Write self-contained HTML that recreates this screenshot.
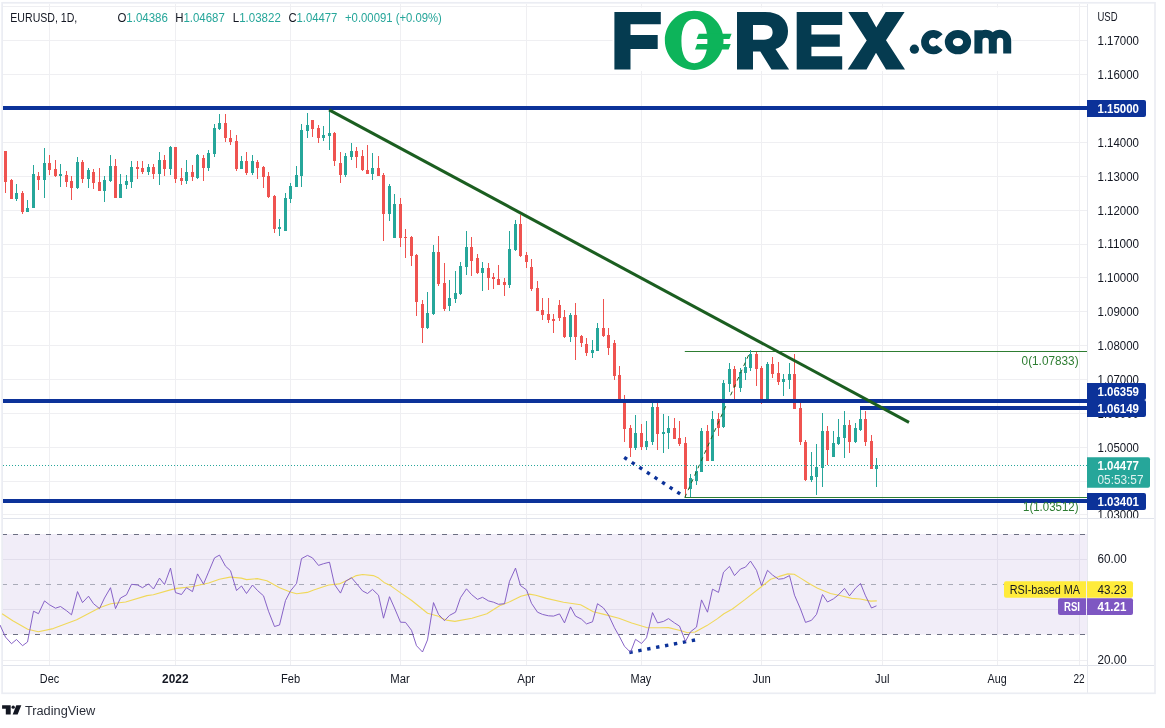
<!DOCTYPE html>
<html><head><meta charset="utf-8"><title>EURUSD Daily</title>
<style>html,body{margin:0;padding:0;background:#fff;}body{width:1165px;height:728px;overflow:hidden;position:relative;font-family:"Liberation Sans",sans-serif;}</style>
</head><body>
<svg width="1165" height="728" viewBox="0 0 1165 728" style="position:absolute;left:0;top:0;will-change:transform;opacity:0.9999;font-family:'Liberation Sans',sans-serif">
<rect x="0" y="0" width="1165" height="728" fill="#fff"/>
<line x1="3" x2="1087" y1="6.5" y2="6.5" stroke="#efeff2" stroke-width="1"/>
<line x1="3" x2="1087" y1="40.5" y2="40.5" stroke="#efeff2" stroke-width="1"/>
<line x1="3" x2="1087" y1="74.5" y2="74.5" stroke="#efeff2" stroke-width="1"/>
<line x1="3" x2="1087" y1="108.5" y2="108.5" stroke="#efeff2" stroke-width="1"/>
<line x1="3" x2="1087" y1="142.5" y2="142.5" stroke="#efeff2" stroke-width="1"/>
<line x1="3" x2="1087" y1="176.5" y2="176.5" stroke="#efeff2" stroke-width="1"/>
<line x1="3" x2="1087" y1="210.5" y2="210.5" stroke="#efeff2" stroke-width="1"/>
<line x1="3" x2="1087" y1="244.5" y2="244.5" stroke="#efeff2" stroke-width="1"/>
<line x1="3" x2="1087" y1="277.5" y2="277.5" stroke="#efeff2" stroke-width="1"/>
<line x1="3" x2="1087" y1="311.5" y2="311.5" stroke="#efeff2" stroke-width="1"/>
<line x1="3" x2="1087" y1="345.5" y2="345.5" stroke="#efeff2" stroke-width="1"/>
<line x1="3" x2="1087" y1="379.5" y2="379.5" stroke="#efeff2" stroke-width="1"/>
<line x1="3" x2="1087" y1="413.5" y2="413.5" stroke="#efeff2" stroke-width="1"/>
<line x1="3" x2="1087" y1="447.5" y2="447.5" stroke="#efeff2" stroke-width="1"/>
<line x1="3" x2="1087" y1="481.5" y2="481.5" stroke="#efeff2" stroke-width="1"/>
<line x1="3" x2="1087" y1="514.5" y2="514.5" stroke="#efeff2" stroke-width="1"/>
<line x1="3" x2="1087" y1="559.5" y2="559.5" stroke="#efeff2" stroke-width="1"/>
<line x1="3" x2="1087" y1="609.5" y2="609.5" stroke="#efeff2" stroke-width="1"/>
<line x1="3" x2="1087" y1="660.5" y2="660.5" stroke="#efeff2" stroke-width="1"/>
<line x1="49.5" x2="49.5" y1="4" y2="665" stroke="#efeff2" stroke-width="1"/>
<line x1="175.5" x2="175.5" y1="4" y2="665" stroke="#efeff2" stroke-width="1"/>
<line x1="290.5" x2="290.5" y1="4" y2="665" stroke="#efeff2" stroke-width="1"/>
<line x1="400.5" x2="400.5" y1="4" y2="665" stroke="#efeff2" stroke-width="1"/>
<line x1="526.5" x2="526.5" y1="4" y2="665" stroke="#efeff2" stroke-width="1"/>
<line x1="641.5" x2="641.5" y1="4" y2="665" stroke="#efeff2" stroke-width="1"/>
<line x1="761.5" x2="761.5" y1="4" y2="665" stroke="#efeff2" stroke-width="1"/>
<line x1="882.5" x2="882.5" y1="4" y2="665" stroke="#efeff2" stroke-width="1"/>
<line x1="997.5" x2="997.5" y1="4" y2="665" stroke="#efeff2" stroke-width="1"/>
<line x1="1079.5" x2="1079.5" y1="4" y2="665" stroke="#efeff2" stroke-width="1"/>
<rect x="3" y="534" width="1084" height="100.5" fill="#7e57c2" fill-opacity="0.11"/>
<line x1="2" x2="1087" y1="534.5" y2="534.5" stroke="#6c6f82" stroke-width="1" stroke-dasharray="5 6"/>
<line x1="2" x2="1087" y1="634.5" y2="634.5" stroke="#6c6f82" stroke-width="1" stroke-dasharray="5 6"/>
<line x1="2" x2="1087" y1="584.5" y2="584.5" stroke="#a9abb8" stroke-width="1" stroke-dasharray="5 6"/>
<line x1="3" x2="1154" y1="518.5" y2="518.5" stroke="#e0e3eb" stroke-width="1"/>
<line x1="3" x2="1154" y1="665.5" y2="665.5" stroke="#e0e3eb" stroke-width="1"/>
<line x1="1087.5" x2="1087.5" y1="4" y2="693" stroke="#e6e8ee" stroke-width="1"/>
<rect x="2.1" y="2.8" width="1152.9" height="690.5" fill="none" stroke="#ebedf3" stroke-width="1.7"/>
<g id="logo">
<rect x="612.5" y="7.5" width="399.5" height="63.5" fill="#fff"/>
<path d="M614.4,12 H660.8 V24.3 H630.5 V35 H657.7 V49 H630.5 V69.6 H614.4 Z" fill="#053b50"/>
<path fill-rule="evenodd" d="M694.2,10.75 C710.41,10.75 723.5500000000001,24.00 723.5500000000001,40.35 C723.5500000000001,56.70 710.41,69.95 694.2,69.95 C677.99,69.95 664.85,56.70 664.85,40.35 C664.85,24.00 677.99,10.75 694.2,10.75 Z M694.4,18.9 C702.72,18.9 707.4,26.87 707.4,41.05 C707.4,55.23 702.72,63.199999999999996 694.4,63.199999999999996 C686.08,63.199999999999996 681.4,55.23 681.4,41.05 C681.4,26.87 686.08,18.9 694.4,18.9 Z" fill="#0db45a"/>
<path d="M698.75,33.65 H731.6 L729.5,39.1 H696.6 Z M697.1,43.9 H730.7 L728.6,49.4 H695 Z" fill="#0db45a"/>
<path fill-rule="evenodd" d="M737,12 H765 C780,12 788,20 788,31 C788,40.5 783,46.5 775.5,49 L789.1,69.6 H771.5 L760.3,51.6 H753 V69.6 H737 Z M753,25 H764 C769.8,25 772.6,28 772.6,32.3 C772.6,36.6 769.8,39.7 764,39.7 H753 Z" fill="#053b50"/>
<path d="M796.7,12 H842.2 V25 H811.4 V34.4 H839.8 V46.8 H811.4 V56.2 H842.2 V69.6 H796.7 Z" fill="#053b50"/>
<path d="M848.3,12 H867.5 L876.3,27.5 L885.7,12 H904.6 L886,40.3 L905,69.6 H886 L876,52.8 L866.5,69.6 H847.7 L866.7,40.5 Z" fill="#053b50"/>
<circle cx="914.4" cy="49.2" r="4.6" fill="#053b50"/>
<g fill="none" stroke="#053b50" stroke-width="8">
<path d="M939.66,36.76 A8.3,8.3 0 1 0 939.66,47.44" stroke-width="7.8"/>
<ellipse cx="957.95" cy="42.1" rx="9.15" ry="8.2"/>
<path d="M978.4,30.2 V53.6 M978.4,41 a7.2,7.2 0 0 1 14.4,0 V53.6 M992.8,41 a7.2,7.2 0 0 1 14.4,0 V53.6"/>
</g>
</g>

<line x1="684.8" x2="1087" y1="351.5" y2="351.5" stroke="#2e7d32" stroke-width="1"/>
<line x1="684.8" x2="1087" y1="497.5" y2="497.5" stroke="#2e7d32" stroke-width="1"/>
<rect x="5" y="151" width="1" height="42" fill="#ef5350"/>
<rect x="4" y="151" width="3" height="31" fill="#ef5350"/>
<rect x="11" y="179" width="1" height="20" fill="#ef5350"/>
<rect x="10" y="180" width="3" height="19" fill="#ef5350"/>
<rect x="16" y="184" width="1" height="17" fill="#26a69a"/>
<rect x="15" y="193" width="3" height="6" fill="#26a69a"/>
<rect x="22" y="191" width="1" height="23" fill="#ef5350"/>
<rect x="21" y="193" width="3" height="19" fill="#ef5350"/>
<rect x="27" y="200" width="1" height="12" fill="#26a69a"/>
<rect x="26" y="208" width="3" height="4" fill="#26a69a"/>
<rect x="33" y="165" width="1" height="43" fill="#26a69a"/>
<rect x="32" y="174" width="3" height="34" fill="#26a69a"/>
<rect x="38" y="172" width="1" height="18" fill="#ef5350"/>
<rect x="37" y="176" width="3" height="4" fill="#ef5350"/>
<rect x="44" y="148" width="1" height="50" fill="#26a69a"/>
<rect x="43" y="163" width="3" height="17" fill="#26a69a"/>
<rect x="49" y="155" width="1" height="20" fill="#ef5350"/>
<rect x="48" y="163" width="3" height="7" fill="#ef5350"/>
<rect x="55" y="160" width="1" height="17" fill="#ef5350"/>
<rect x="54" y="169" width="3" height="7" fill="#ef5350"/>
<rect x="60" y="164" width="1" height="23" fill="#26a69a"/>
<rect x="59" y="174" width="3" height="2" fill="#26a69a"/>
<rect x="66" y="171" width="1" height="16" fill="#ef5350"/>
<rect x="65" y="175" width="3" height="7" fill="#ef5350"/>
<rect x="71" y="176" width="1" height="24" fill="#ef5350"/>
<rect x="70" y="181" width="3" height="7" fill="#ef5350"/>
<rect x="77" y="157" width="1" height="32" fill="#26a69a"/>
<rect x="76" y="162" width="3" height="26" fill="#26a69a"/>
<rect x="82" y="160" width="1" height="23" fill="#ef5350"/>
<rect x="81" y="162" width="3" height="17" fill="#ef5350"/>
<rect x="88" y="168" width="1" height="20" fill="#26a69a"/>
<rect x="87" y="170" width="3" height="9" fill="#26a69a"/>
<rect x="93" y="169" width="1" height="20" fill="#ef5350"/>
<rect x="92" y="172" width="3" height="11" fill="#ef5350"/>
<rect x="99" y="168" width="1" height="23" fill="#ef5350"/>
<rect x="98" y="182" width="3" height="9" fill="#ef5350"/>
<rect x="104" y="176" width="1" height="26" fill="#26a69a"/>
<rect x="103" y="180" width="3" height="11" fill="#26a69a"/>
<rect x="110" y="155" width="1" height="27" fill="#26a69a"/>
<rect x="109" y="166" width="3" height="15" fill="#26a69a"/>
<rect x="115" y="159" width="1" height="39" fill="#ef5350"/>
<rect x="114" y="166" width="3" height="32" fill="#ef5350"/>
<rect x="120" y="174" width="1" height="24" fill="#26a69a"/>
<rect x="119" y="184" width="3" height="14" fill="#26a69a"/>
<rect x="126" y="175" width="1" height="14" fill="#26a69a"/>
<rect x="125" y="181" width="3" height="4" fill="#26a69a"/>
<rect x="131" y="161" width="1" height="27" fill="#26a69a"/>
<rect x="130" y="167" width="3" height="15" fill="#26a69a"/>
<rect x="137" y="161" width="1" height="18" fill="#ef5350"/>
<rect x="136" y="167" width="3" height="2" fill="#ef5350"/>
<rect x="142" y="161" width="1" height="13" fill="#ef5350"/>
<rect x="141" y="168" width="3" height="4" fill="#ef5350"/>
<rect x="148" y="164" width="1" height="11" fill="#26a69a"/>
<rect x="147" y="167" width="3" height="5" fill="#26a69a"/>
<rect x="153" y="164" width="1" height="15" fill="#ef5350"/>
<rect x="152" y="167" width="3" height="7" fill="#ef5350"/>
<rect x="159" y="152" width="1" height="33" fill="#26a69a"/>
<rect x="158" y="160" width="3" height="14" fill="#26a69a"/>
<rect x="164" y="155" width="1" height="21" fill="#ef5350"/>
<rect x="163" y="160" width="3" height="9" fill="#ef5350"/>
<rect x="170" y="146" width="1" height="29" fill="#26a69a"/>
<rect x="169" y="147" width="3" height="22" fill="#26a69a"/>
<rect x="175" y="147" width="1" height="36" fill="#ef5350"/>
<rect x="174" y="147" width="3" height="32" fill="#ef5350"/>
<rect x="181" y="168" width="1" height="17" fill="#ef5350"/>
<rect x="180" y="178" width="3" height="3" fill="#ef5350"/>
<rect x="186" y="160" width="1" height="24" fill="#26a69a"/>
<rect x="185" y="172" width="3" height="9" fill="#26a69a"/>
<rect x="192" y="165" width="1" height="16" fill="#ef5350"/>
<rect x="191" y="172" width="3" height="5" fill="#ef5350"/>
<rect x="197" y="154" width="1" height="25" fill="#26a69a"/>
<rect x="196" y="155" width="3" height="23" fill="#26a69a"/>
<rect x="203" y="155" width="1" height="26" fill="#ef5350"/>
<rect x="202" y="158" width="3" height="10" fill="#ef5350"/>
<rect x="208" y="150" width="1" height="21" fill="#26a69a"/>
<rect x="207" y="153" width="3" height="15" fill="#26a69a"/>
<rect x="214" y="124" width="1" height="33" fill="#26a69a"/>
<rect x="213" y="128" width="3" height="26" fill="#26a69a"/>
<rect x="219" y="114" width="1" height="16" fill="#26a69a"/>
<rect x="218" y="123" width="3" height="6" fill="#26a69a"/>
<rect x="225" y="114" width="1" height="28" fill="#ef5350"/>
<rect x="224" y="123" width="3" height="15" fill="#ef5350"/>
<rect x="230" y="130" width="1" height="15" fill="#ef5350"/>
<rect x="229" y="138" width="3" height="4" fill="#ef5350"/>
<rect x="236" y="135" width="1" height="36" fill="#ef5350"/>
<rect x="235" y="141" width="3" height="28" fill="#ef5350"/>
<rect x="241" y="156" width="1" height="13" fill="#26a69a"/>
<rect x="240" y="161" width="3" height="8" fill="#26a69a"/>
<rect x="246" y="152" width="1" height="23" fill="#ef5350"/>
<rect x="245" y="161" width="3" height="12" fill="#ef5350"/>
<rect x="252" y="155" width="1" height="20" fill="#26a69a"/>
<rect x="251" y="161" width="3" height="12" fill="#26a69a"/>
<rect x="257" y="160" width="1" height="19" fill="#ef5350"/>
<rect x="256" y="162" width="3" height="6" fill="#ef5350"/>
<rect x="263" y="166" width="1" height="22" fill="#ef5350"/>
<rect x="262" y="167" width="3" height="10" fill="#ef5350"/>
<rect x="268" y="172" width="1" height="26" fill="#ef5350"/>
<rect x="267" y="176" width="3" height="21" fill="#ef5350"/>
<rect x="274" y="195" width="1" height="38" fill="#ef5350"/>
<rect x="273" y="196" width="3" height="33" fill="#ef5350"/>
<rect x="279" y="219" width="1" height="17" fill="#26a69a"/>
<rect x="278" y="227" width="3" height="2" fill="#26a69a"/>
<rect x="285" y="193" width="1" height="38" fill="#26a69a"/>
<rect x="284" y="198" width="3" height="33" fill="#26a69a"/>
<rect x="290" y="183" width="1" height="20" fill="#26a69a"/>
<rect x="289" y="186" width="3" height="13" fill="#26a69a"/>
<rect x="296" y="166" width="1" height="21" fill="#26a69a"/>
<rect x="295" y="175" width="3" height="12" fill="#26a69a"/>
<rect x="301" y="124" width="1" height="63" fill="#26a69a"/>
<rect x="300" y="130" width="3" height="46" fill="#26a69a"/>
<rect x="307" y="113" width="1" height="25" fill="#26a69a"/>
<rect x="306" y="125" width="3" height="6" fill="#26a69a"/>
<rect x="312" y="120" width="1" height="17" fill="#ef5350"/>
<rect x="311" y="120" width="3" height="9" fill="#ef5350"/>
<rect x="318" y="125" width="1" height="18" fill="#ef5350"/>
<rect x="317" y="128" width="3" height="10" fill="#ef5350"/>
<rect x="323" y="126" width="1" height="15" fill="#26a69a"/>
<rect x="322" y="135" width="3" height="3" fill="#26a69a"/>
<rect x="329" y="110" width="1" height="40" fill="#26a69a"/>
<rect x="328" y="133" width="3" height="3" fill="#26a69a"/>
<rect x="334" y="132" width="1" height="34" fill="#ef5350"/>
<rect x="333" y="133" width="3" height="28" fill="#ef5350"/>
<rect x="340" y="152" width="1" height="31" fill="#ef5350"/>
<rect x="339" y="163" width="3" height="12" fill="#ef5350"/>
<rect x="345" y="153" width="1" height="24" fill="#26a69a"/>
<rect x="344" y="156" width="3" height="19" fill="#26a69a"/>
<rect x="351" y="143" width="1" height="17" fill="#26a69a"/>
<rect x="350" y="151" width="3" height="6" fill="#26a69a"/>
<rect x="356" y="147" width="1" height="21" fill="#ef5350"/>
<rect x="355" y="151" width="3" height="6" fill="#ef5350"/>
<rect x="362" y="150" width="1" height="21" fill="#ef5350"/>
<rect x="361" y="156" width="3" height="14" fill="#ef5350"/>
<rect x="367" y="145" width="1" height="29" fill="#ef5350"/>
<rect x="366" y="170" width="3" height="4" fill="#ef5350"/>
<rect x="372" y="153" width="1" height="27" fill="#26a69a"/>
<rect x="371" y="168" width="3" height="6" fill="#26a69a"/>
<rect x="378" y="156" width="1" height="20" fill="#ef5350"/>
<rect x="377" y="168" width="3" height="8" fill="#ef5350"/>
<rect x="383" y="173" width="1" height="68" fill="#ef5350"/>
<rect x="382" y="175" width="3" height="39" fill="#ef5350"/>
<rect x="389" y="184" width="1" height="37" fill="#26a69a"/>
<rect x="388" y="186" width="3" height="28" fill="#26a69a"/>
<rect x="394" y="194" width="1" height="44" fill="#26a69a"/>
<rect x="393" y="204" width="3" height="34" fill="#26a69a"/>
<rect x="400" y="198" width="1" height="49" fill="#ef5350"/>
<rect x="399" y="204" width="3" height="34" fill="#ef5350"/>
<rect x="405" y="229" width="1" height="29" fill="#ef5350"/>
<rect x="404" y="237" width="3" height="1" fill="#ef5350"/>
<rect x="411" y="236" width="1" height="30" fill="#ef5350"/>
<rect x="410" y="237" width="3" height="19" fill="#ef5350"/>
<rect x="416" y="254" width="1" height="62" fill="#ef5350"/>
<rect x="415" y="255" width="3" height="47" fill="#ef5350"/>
<rect x="422" y="300" width="1" height="43" fill="#ef5350"/>
<rect x="421" y="304" width="3" height="24" fill="#ef5350"/>
<rect x="427" y="292" width="1" height="37" fill="#26a69a"/>
<rect x="426" y="313" width="3" height="15" fill="#26a69a"/>
<rect x="433" y="245" width="1" height="70" fill="#26a69a"/>
<rect x="432" y="252" width="3" height="62" fill="#26a69a"/>
<rect x="438" y="236" width="1" height="50" fill="#ef5350"/>
<rect x="437" y="252" width="3" height="32" fill="#ef5350"/>
<rect x="444" y="263" width="1" height="48" fill="#ef5350"/>
<rect x="443" y="283" width="3" height="26" fill="#ef5350"/>
<rect x="449" y="280" width="1" height="31" fill="#26a69a"/>
<rect x="448" y="298" width="3" height="8" fill="#26a69a"/>
<rect x="455" y="271" width="1" height="32" fill="#26a69a"/>
<rect x="454" y="293" width="3" height="6" fill="#26a69a"/>
<rect x="460" y="262" width="1" height="33" fill="#26a69a"/>
<rect x="459" y="266" width="3" height="28" fill="#26a69a"/>
<rect x="466" y="231" width="1" height="44" fill="#26a69a"/>
<rect x="465" y="247" width="3" height="20" fill="#26a69a"/>
<rect x="471" y="237" width="1" height="39" fill="#ef5350"/>
<rect x="470" y="247" width="3" height="14" fill="#ef5350"/>
<rect x="477" y="254" width="1" height="20" fill="#ef5350"/>
<rect x="476" y="258" width="3" height="15" fill="#ef5350"/>
<rect x="482" y="262" width="1" height="29" fill="#26a69a"/>
<rect x="481" y="268" width="3" height="5" fill="#26a69a"/>
<rect x="488" y="263" width="1" height="27" fill="#ef5350"/>
<rect x="487" y="268" width="3" height="10" fill="#ef5350"/>
<rect x="493" y="273" width="1" height="16" fill="#ef5350"/>
<rect x="492" y="277" width="3" height="2" fill="#ef5350"/>
<rect x="498" y="265" width="1" height="20" fill="#ef5350"/>
<rect x="497" y="279" width="3" height="6" fill="#ef5350"/>
<rect x="504" y="278" width="1" height="18" fill="#ef5350"/>
<rect x="503" y="282" width="3" height="3" fill="#ef5350"/>
<rect x="509" y="231" width="1" height="57" fill="#26a69a"/>
<rect x="508" y="249" width="3" height="36" fill="#26a69a"/>
<rect x="515" y="220" width="1" height="31" fill="#26a69a"/>
<rect x="514" y="224" width="3" height="26" fill="#26a69a"/>
<rect x="520" y="215" width="1" height="42" fill="#ef5350"/>
<rect x="519" y="224" width="3" height="32" fill="#ef5350"/>
<rect x="526" y="252" width="1" height="16" fill="#ef5350"/>
<rect x="525" y="255" width="3" height="7" fill="#ef5350"/>
<rect x="531" y="259" width="1" height="32" fill="#ef5350"/>
<rect x="530" y="267" width="3" height="22" fill="#ef5350"/>
<rect x="537" y="281" width="1" height="30" fill="#ef5350"/>
<rect x="536" y="288" width="3" height="23" fill="#ef5350"/>
<rect x="542" y="298" width="1" height="22" fill="#ef5350"/>
<rect x="541" y="310" width="3" height="5" fill="#ef5350"/>
<rect x="548" y="298" width="1" height="25" fill="#ef5350"/>
<rect x="547" y="314" width="3" height="6" fill="#ef5350"/>
<rect x="553" y="314" width="1" height="19" fill="#ef5350"/>
<rect x="552" y="319" width="3" height="2" fill="#ef5350"/>
<rect x="559" y="300" width="1" height="21" fill="#ef5350"/>
<rect x="558" y="305" width="3" height="13" fill="#ef5350"/>
<rect x="564" y="310" width="1" height="28" fill="#ef5350"/>
<rect x="563" y="317" width="3" height="20" fill="#ef5350"/>
<rect x="570" y="313" width="1" height="29" fill="#26a69a"/>
<rect x="569" y="315" width="3" height="22" fill="#26a69a"/>
<rect x="575" y="303" width="1" height="57" fill="#ef5350"/>
<rect x="574" y="315" width="3" height="22" fill="#ef5350"/>
<rect x="581" y="335" width="1" height="12" fill="#ef5350"/>
<rect x="580" y="336" width="3" height="7" fill="#ef5350"/>
<rect x="586" y="338" width="1" height="18" fill="#ef5350"/>
<rect x="585" y="344" width="3" height="9" fill="#ef5350"/>
<rect x="592" y="340" width="1" height="18" fill="#26a69a"/>
<rect x="591" y="350" width="3" height="3" fill="#26a69a"/>
<rect x="597" y="323" width="1" height="28" fill="#26a69a"/>
<rect x="596" y="328" width="3" height="23" fill="#26a69a"/>
<rect x="603" y="299" width="1" height="38" fill="#ef5350"/>
<rect x="602" y="328" width="3" height="8" fill="#ef5350"/>
<rect x="608" y="328" width="1" height="27" fill="#ef5350"/>
<rect x="607" y="335" width="3" height="13" fill="#ef5350"/>
<rect x="614" y="340" width="1" height="40" fill="#ef5350"/>
<rect x="613" y="343" width="3" height="33" fill="#ef5350"/>
<rect x="619" y="366" width="1" height="37" fill="#ef5350"/>
<rect x="618" y="375" width="3" height="27" fill="#ef5350"/>
<rect x="624" y="395" width="1" height="47" fill="#ef5350"/>
<rect x="623" y="401" width="3" height="28" fill="#ef5350"/>
<rect x="630" y="425" width="1" height="32" fill="#ef5350"/>
<rect x="629" y="428" width="3" height="20" fill="#ef5350"/>
<rect x="635" y="415" width="1" height="35" fill="#26a69a"/>
<rect x="634" y="433" width="3" height="15" fill="#26a69a"/>
<rect x="641" y="424" width="1" height="26" fill="#ef5350"/>
<rect x="640" y="433" width="3" height="14" fill="#ef5350"/>
<rect x="646" y="421" width="1" height="29" fill="#26a69a"/>
<rect x="645" y="441" width="3" height="6" fill="#26a69a"/>
<rect x="652" y="403" width="1" height="42" fill="#26a69a"/>
<rect x="651" y="407" width="3" height="35" fill="#26a69a"/>
<rect x="657" y="403" width="1" height="47" fill="#ef5350"/>
<rect x="656" y="407" width="3" height="27" fill="#ef5350"/>
<rect x="663" y="414" width="1" height="39" fill="#26a69a"/>
<rect x="662" y="432" width="3" height="2" fill="#26a69a"/>
<rect x="668" y="416" width="1" height="33" fill="#26a69a"/>
<rect x="667" y="428" width="3" height="5" fill="#26a69a"/>
<rect x="674" y="418" width="1" height="21" fill="#ef5350"/>
<rect x="673" y="428" width="3" height="11" fill="#ef5350"/>
<rect x="679" y="421" width="1" height="25" fill="#ef5350"/>
<rect x="678" y="438" width="3" height="6" fill="#ef5350"/>
<rect x="685" y="437" width="1" height="60" fill="#ef5350"/>
<rect x="684" y="443" width="3" height="46" fill="#ef5350"/>
<rect x="690" y="474" width="1" height="23" fill="#26a69a"/>
<rect x="689" y="478" width="3" height="11" fill="#26a69a"/>
<rect x="696" y="466" width="1" height="19" fill="#26a69a"/>
<rect x="695" y="471" width="3" height="10" fill="#26a69a"/>
<rect x="701" y="428" width="1" height="44" fill="#26a69a"/>
<rect x="700" y="431" width="3" height="41" fill="#26a69a"/>
<rect x="707" y="425" width="1" height="36" fill="#ef5350"/>
<rect x="706" y="431" width="3" height="30" fill="#ef5350"/>
<rect x="712" y="411" width="1" height="50" fill="#26a69a"/>
<rect x="711" y="419" width="3" height="42" fill="#26a69a"/>
<rect x="718" y="413" width="1" height="23" fill="#ef5350"/>
<rect x="717" y="419" width="3" height="9" fill="#ef5350"/>
<rect x="723" y="380" width="1" height="48" fill="#26a69a"/>
<rect x="722" y="383" width="3" height="44" fill="#26a69a"/>
<rect x="729" y="363" width="1" height="29" fill="#26a69a"/>
<rect x="728" y="369" width="3" height="15" fill="#26a69a"/>
<rect x="734" y="366" width="1" height="34" fill="#ef5350"/>
<rect x="733" y="369" width="3" height="18" fill="#ef5350"/>
<rect x="740" y="368" width="1" height="24" fill="#26a69a"/>
<rect x="739" y="372" width="3" height="16" fill="#26a69a"/>
<rect x="745" y="357" width="1" height="23" fill="#26a69a"/>
<rect x="744" y="367" width="3" height="6" fill="#26a69a"/>
<rect x="750" y="350" width="1" height="21" fill="#26a69a"/>
<rect x="749" y="354" width="3" height="14" fill="#26a69a"/>
<rect x="756" y="352" width="1" height="34" fill="#ef5350"/>
<rect x="755" y="354" width="3" height="15" fill="#ef5350"/>
<rect x="761" y="366" width="1" height="38" fill="#ef5350"/>
<rect x="760" y="368" width="3" height="31" fill="#ef5350"/>
<rect x="767" y="362" width="1" height="37" fill="#26a69a"/>
<rect x="766" y="364" width="3" height="35" fill="#26a69a"/>
<rect x="772" y="357" width="1" height="21" fill="#ef5350"/>
<rect x="771" y="364" width="3" height="10" fill="#ef5350"/>
<rect x="778" y="362" width="1" height="23" fill="#ef5350"/>
<rect x="777" y="373" width="3" height="9" fill="#ef5350"/>
<rect x="783" y="374" width="1" height="22" fill="#26a69a"/>
<rect x="782" y="379" width="3" height="3" fill="#26a69a"/>
<rect x="789" y="363" width="1" height="26" fill="#26a69a"/>
<rect x="788" y="374" width="3" height="6" fill="#26a69a"/>
<rect x="794" y="354" width="1" height="55" fill="#ef5350"/>
<rect x="793" y="374" width="3" height="35" fill="#ef5350"/>
<rect x="800" y="403" width="1" height="42" fill="#ef5350"/>
<rect x="799" y="408" width="3" height="34" fill="#ef5350"/>
<rect x="805" y="440" width="1" height="41" fill="#ef5350"/>
<rect x="804" y="442" width="3" height="38" fill="#ef5350"/>
<rect x="811" y="452" width="1" height="30" fill="#26a69a"/>
<rect x="810" y="476" width="3" height="4" fill="#26a69a"/>
<rect x="816" y="444" width="1" height="51" fill="#26a69a"/>
<rect x="815" y="467" width="3" height="10" fill="#26a69a"/>
<rect x="822" y="413" width="1" height="74" fill="#26a69a"/>
<rect x="821" y="431" width="3" height="37" fill="#26a69a"/>
<rect x="827" y="426" width="1" height="39" fill="#ef5350"/>
<rect x="826" y="431" width="3" height="19" fill="#ef5350"/>
<rect x="833" y="431" width="1" height="26" fill="#26a69a"/>
<rect x="832" y="443" width="3" height="14" fill="#26a69a"/>
<rect x="838" y="419" width="1" height="26" fill="#26a69a"/>
<rect x="837" y="437" width="3" height="7" fill="#26a69a"/>
<rect x="844" y="411" width="1" height="47" fill="#26a69a"/>
<rect x="843" y="425" width="3" height="13" fill="#26a69a"/>
<rect x="849" y="420" width="1" height="33" fill="#ef5350"/>
<rect x="848" y="425" width="3" height="17" fill="#ef5350"/>
<rect x="855" y="423" width="1" height="20" fill="#26a69a"/>
<rect x="854" y="428" width="3" height="14" fill="#26a69a"/>
<rect x="860" y="410" width="1" height="21" fill="#26a69a"/>
<rect x="859" y="419" width="3" height="11" fill="#26a69a"/>
<rect x="865" y="411" width="1" height="35" fill="#ef5350"/>
<rect x="864" y="419" width="3" height="23" fill="#ef5350"/>
<rect x="871" y="435" width="1" height="34" fill="#ef5350"/>
<rect x="870" y="441" width="3" height="28" fill="#ef5350"/>
<rect x="876" y="458" width="1" height="29" fill="#26a69a"/>
<rect x="875" y="465" width="3" height="4" fill="#26a69a"/>
<line x1="684.8" y1="497.5" x2="750.2" y2="351.5" stroke="#1b5e20" stroke-width="1" stroke-dasharray="4 4"/>
<line x1="3" x2="1087" y1="465.5" y2="465.5" stroke="#26a69a" stroke-width="1" stroke-dasharray="1 2"/>
<rect x="3" y="106" width="1084" height="4" fill="#0c3299"/>
<rect x="3" y="399" width="1084" height="4" fill="#0c3299"/>
<rect x="860" y="406" width="227" height="4" fill="#0c3299"/>
<rect x="3" y="499" width="1084" height="4" fill="#0c3299"/>
<line x1="329.1" y1="109.9" x2="909" y2="422.3" stroke="#1b5e20" stroke-width="3.05"/>
<rect x="623.90" y="456.60" width="3.4" height="3.4" fill="#0c3299" transform="rotate(33.2 625.60 458.30)"/>
<rect x="631.49" y="461.56" width="3.4" height="3.4" fill="#0c3299" transform="rotate(33.2 633.19 463.26)"/>
<rect x="639.07" y="466.51" width="3.4" height="3.4" fill="#0c3299" transform="rotate(33.2 640.77 468.21)"/>
<rect x="646.66" y="471.47" width="3.4" height="3.4" fill="#0c3299" transform="rotate(33.2 648.36 473.17)"/>
<rect x="654.24" y="476.43" width="3.4" height="3.4" fill="#0c3299" transform="rotate(33.2 655.94 478.13)"/>
<rect x="661.83" y="481.39" width="3.4" height="3.4" fill="#0c3299" transform="rotate(33.2 663.53 483.09)"/>
<rect x="669.41" y="486.34" width="3.4" height="3.4" fill="#0c3299" transform="rotate(33.2 671.11 488.04)"/>
<rect x="677.00" y="491.30" width="3.4" height="3.4" fill="#0c3299" transform="rotate(33.2 678.70 493.00)"/>
<rect x="629.30" y="650.50" width="3.4" height="3.4" fill="#0c3299" transform="rotate(-10.8 631.00 652.20)"/>
<rect x="638.21" y="648.80" width="3.4" height="3.4" fill="#0c3299" transform="rotate(-10.8 639.91 650.50)"/>
<rect x="647.13" y="647.10" width="3.4" height="3.4" fill="#0c3299" transform="rotate(-10.8 648.83 648.80)"/>
<rect x="656.04" y="645.40" width="3.4" height="3.4" fill="#0c3299" transform="rotate(-10.8 657.74 647.10)"/>
<rect x="664.96" y="643.70" width="3.4" height="3.4" fill="#0c3299" transform="rotate(-10.8 666.66 645.40)"/>
<rect x="673.87" y="642.00" width="3.4" height="3.4" fill="#0c3299" transform="rotate(-10.8 675.57 643.70)"/>
<rect x="682.79" y="640.30" width="3.4" height="3.4" fill="#0c3299" transform="rotate(-10.8 684.49 642.00)"/>
<rect x="691.70" y="638.60" width="3.4" height="3.4" fill="#0c3299" transform="rotate(-10.8 693.40 640.30)"/>
<polyline points="2.1,613.7 12.8,620.7 27.7,629.3 38.3,631.8 53.2,628.6 76.7,619.7 100.1,607.5 110.7,603.7 125.6,602.0 146.9,595.6 153.3,594.8 170.4,589.9 176.8,588.4 191.7,586.7 208.7,583.0 219.4,579.2 230.0,577.1 230.6,577.1 241.3,578.1 246.6,579.6 257.3,578.6 266.9,580.7 279.6,587.7 290.3,592.0 296.7,593.7 307.3,592.4 313.7,589.9 328.6,585.0 339.3,583.9 347.8,579.9 356.3,575.6 362.7,574.5 373.3,575.6 378.7,578.1 384.0,582.4 390.4,585.6 401.0,593.1 411.7,600.5 427.6,613.3 439.4,616.5 440.0,617.5 446.4,620.1 454.9,621.4 471.9,618.2 486.9,613.7 499.6,605.8 510.3,601.6 520.9,596.2 529.4,594.1 535.8,595.2 546.5,598.4 563.5,602.2 580.6,604.8 593.3,611.8 604.0,614.4 618.9,618.2 631.7,622.9 646.6,627.6 657.2,627.8 660.0,627.8 668.5,627.6 679.2,630.3 687.7,632.7 695.1,632.0 706.9,625.6 717.5,618.6 723.9,613.7 732.4,609.0 745.2,599.4 760.1,587.7 770.7,579.2 779.3,576.4 787.8,573.9 794.2,574.3 800.6,578.1 809.1,583.5 817.6,588.2 830.4,593.5 841.0,595.8 851.7,598.4 860.2,599.0 870.8,601.1 876.8,600.9" fill="none" stroke="#f0d85a" stroke-width="1.1" stroke-linejoin="round"/>
<polyline points="0,625.0 5.5,637.1 11.5,643.7 16.5,639.5 22.5,645.7 27.5,642.0 33.5,611.2 38.5,613.7 44.5,600.9 49.5,604.8 55.5,608.2 60.5,606.5 66.5,610.7 71.5,614.8 77.5,591.6 82.5,602.6 88.5,596.2 93.5,603.7 99.5,608.6 104.5,598.0 110.5,587.7 115.5,608.6 120.5,598.0 126.5,594.8 131.5,584.3 137.5,585.0 142.5,587.7 148.5,583.9 153.5,589.0 159.5,578.1 164.5,584.5 170.5,568.1 175.5,592.6 181.5,594.5 186.5,587.7 192.5,591.6 197.5,573.9 203.5,584.1 208.5,572.2 214.5,557.9 219.5,555.1 225.5,566.2 230.5,570.7 236.5,590.5 241.5,586.0 246.5,593.5 252.5,585.0 257.5,590.5 263.5,595.8 268.5,611.2 274.5,626.5 279.5,625.0 285.5,600.5 290.5,590.9 296.5,583.5 301.5,558.6 307.5,555.4 312.5,557.9 318.5,565.4 323.5,563.7 329.5,562.2 334.5,584.5 340.5,593.1 345.5,581.3 351.5,577.7 356.5,583.5 362.5,590.9 367.5,593.5 372.5,589.4 378.5,595.2 383.5,618.2 389.5,596.7 394.5,608.0 400.5,622.2 405.5,622.4 411.5,630.3 416.5,645.7 422.5,652.0 427.5,639.9 433.5,602.6 438.5,614.4 444.5,620.7 449.5,615.4 455.5,612.2 460.5,597.7 466.5,588.8 471.5,594.5 477.5,599.4 482.5,597.3 488.5,600.9 493.5,602.2 498.5,604.3 504.5,603.7 509.5,581.3 515.5,568.1 520.5,585.6 526.5,589.9 531.5,603.3 537.5,612.2 542.5,614.4 548.5,615.8 553.5,616.1 559.5,613.9 564.5,622.9 570.5,606.9 575.5,616.1 581.5,619.2 586.5,623.9 592.5,621.8 597.5,603.7 603.5,608.0 608.5,615.0 614.5,627.8 619.5,636.7 624.5,646.3 630.5,652.3 635.5,639.3 641.5,643.5 646.5,637.8 652.5,612.6 657.5,622.9 663.5,621.4 668.5,618.6 674.5,622.9 679.5,626.1 685.5,641.4 690.5,631.8 696.5,627.1 701.5,599.9 707.5,612.2 712.5,589.2 718.5,592.4 723.5,572.2 729.5,566.4 734.5,575.6 740.5,569.0 745.5,567.1 750.5,561.1 756.5,570.3 761.5,585.6 767.5,570.3 772.5,575.0 778.5,579.2 783.5,578.6 789.5,575.6 794.5,595.2 800.5,609.0 805.5,622.4 811.5,620.3 816.5,614.4 822.5,594.5 827.5,602.0 833.5,598.8 838.5,594.8 844.5,588.4 849.5,595.8 855.5,588.2 860.5,583.5 865.5,595.8 871.5,608.0 876.5,605.8" fill="none" stroke="#7e57c2" stroke-width="1" stroke-opacity="0.92" stroke-linejoin="round"/>
<text x="1021.6" y="365" font-size="12.5" fill="#2e7d32" textLength="57" lengthAdjust="spacingAndGlyphs">0(1.07833)</text>
<text x="1023" y="510.8" font-size="12.5" fill="#2e7d32" textLength="55.5" lengthAdjust="spacingAndGlyphs">1(1.03512)</text>
<clipPath id="cpm"><rect x="1088" y="3" width="70" height="515"/></clipPath>
<g clip-path="url(#cpm)">
<text x="1097.50" y="20.90" font-size="12.5" fill="#131722" textLength="20.1" lengthAdjust="spacingAndGlyphs">USD</text>
<text x="1097.50" y="45.10" font-size="12.5" fill="#131722" textLength="41.5" lengthAdjust="spacingAndGlyphs">1.17000</text>
<text x="1097.50" y="78.98" font-size="12.5" fill="#131722" textLength="41.5" lengthAdjust="spacingAndGlyphs">1.16000</text>
<text x="1097.50" y="112.86" font-size="12.5" fill="#131722" textLength="41.5" lengthAdjust="spacingAndGlyphs">1.15000</text>
<text x="1097.50" y="146.74" font-size="12.5" fill="#131722" textLength="41.5" lengthAdjust="spacingAndGlyphs">1.14000</text>
<text x="1097.50" y="180.62" font-size="12.5" fill="#131722" textLength="41.5" lengthAdjust="spacingAndGlyphs">1.13000</text>
<text x="1097.50" y="214.50" font-size="12.5" fill="#131722" textLength="41.5" lengthAdjust="spacingAndGlyphs">1.12000</text>
<text x="1097.50" y="248.38" font-size="12.5" fill="#131722" textLength="41.5" lengthAdjust="spacingAndGlyphs">1.11000</text>
<text x="1097.50" y="282.26" font-size="12.5" fill="#131722" textLength="41.5" lengthAdjust="spacingAndGlyphs">1.10000</text>
<text x="1097.50" y="316.14" font-size="12.5" fill="#131722" textLength="41.5" lengthAdjust="spacingAndGlyphs">1.09000</text>
<text x="1097.50" y="350.02" font-size="12.5" fill="#131722" textLength="41.5" lengthAdjust="spacingAndGlyphs">1.08000</text>
<text x="1097.50" y="383.90" font-size="12.5" fill="#131722" textLength="41.5" lengthAdjust="spacingAndGlyphs">1.07000</text>
<text x="1097.50" y="417.78" font-size="12.5" fill="#131722" textLength="41.5" lengthAdjust="spacingAndGlyphs">1.06000</text>
<text x="1097.50" y="451.66" font-size="12.5" fill="#131722" textLength="41.5" lengthAdjust="spacingAndGlyphs">1.05000</text>
<text x="1097.50" y="485.54" font-size="12.5" fill="#131722" textLength="41.5" lengthAdjust="spacingAndGlyphs">1.04000</text>
<text x="1097.50" y="519.42" font-size="12.5" fill="#131722" textLength="41.5" lengthAdjust="spacingAndGlyphs">1.03000</text>
</g>
<text x="1097.50" y="562.80" font-size="12.5" fill="#131722" textLength="29.2" lengthAdjust="spacingAndGlyphs">60.00</text>
<text x="1097.50" y="613.60" font-size="12.5" fill="#131722" textLength="29.2" lengthAdjust="spacingAndGlyphs">40.00</text>
<text x="1097.50" y="664.00" font-size="12.5" fill="#131722" textLength="29.2" lengthAdjust="spacingAndGlyphs">20.00</text>
<path d="M1087,100 H1144 a2,2 0 0 1 2,2 V115 a2,2 0 0 1 -2,2 H1087 Z" fill="#0c3299"/>
<text x="1097.50" y="112.90" font-size="12.5" fill="#fff" font-weight="bold" textLength="41.5" lengthAdjust="spacingAndGlyphs">1.15000</text>
<path d="M1087,383 H1144 a2,2 0 0 1 2,2 V398 a2,2 0 0 1 -2,2 H1087 Z" fill="#0c3299"/>
<text x="1097.50" y="395.90" font-size="12.5" fill="#fff" font-weight="bold" textLength="41.5" lengthAdjust="spacingAndGlyphs">1.06359</text>
<path d="M1087,400 H1144 a2,2 0 0 1 2,2 V415 a2,2 0 0 1 -2,2 H1087 Z" fill="#0c3299"/>
<text x="1097.50" y="412.90" font-size="12.5" fill="#fff" font-weight="bold" textLength="41.5" lengthAdjust="spacingAndGlyphs">1.06149</text>
<path d="M1087,493 H1144 a2,2 0 0 1 2,2 V508 a2,2 0 0 1 -2,2 H1087 Z" fill="#0c3299"/>
<text x="1097.50" y="505.90" font-size="12.5" fill="#fff" font-weight="bold" textLength="41.5" lengthAdjust="spacingAndGlyphs">1.03401</text>
<path d="M1087,457.2 H1148 a2,2 0 0 1 2,2 V485.7 a2,2 0 0 1 -2,2 H1087 Z" fill="#26a69a"/>
<text x="1097.50" y="469.80" font-size="12.5" fill="#fff" font-weight="bold" textLength="41.5" lengthAdjust="spacingAndGlyphs">1.04477</text>
<text x="1097.50" y="483.80" font-size="12.5" fill="#fff" textLength="46" lengthAdjust="spacingAndGlyphs" fill-opacity="0.85">05:53:57</text>
<path d="M1006,581.2 H1086 V597.7 H1006 a2,2 0 0 1 -2,-2 V583.2 a2,2 0 0 1 2,-2 Z" fill="#ffeb3b"/>
<path d="M1087,581.2 H1131 a2,2 0 0 1 2,2 V595.7 a2,2 0 0 1 -2,2 H1087 Z" fill="#ffeb3b"/>
<text x="1009.70" y="593.90" font-size="12.5" fill="#131722" textLength="70.4" lengthAdjust="spacingAndGlyphs">RSI-based MA</text>
<text x="1097.50" y="593.90" font-size="12.5" fill="#131722" textLength="29.2" lengthAdjust="spacingAndGlyphs">43.23</text>
<path d="M1060,598.3 H1086 V615 H1060 a2,2 0 0 1 -2,-2 V600.3 a2,2 0 0 1 2,-2 Z" fill="#7e57c2"/>
<path d="M1087,598.3 H1131 a2,2 0 0 1 2,2 V613 a2,2 0 0 1 -2,2 H1087 Z" fill="#7e57c2"/>
<text x="1064.00" y="611.00" font-size="12.5" fill="#fff" font-weight="bold" textLength="16" lengthAdjust="spacingAndGlyphs">RSI</text>
<text x="1097.50" y="611.00" font-size="12.5" fill="#fff" font-weight="bold" textLength="28.9" lengthAdjust="spacingAndGlyphs">41.21</text>
<text x="39.80" y="683.00" font-size="12.5" fill="#131722" textLength="19.3" lengthAdjust="spacingAndGlyphs">Dec</text>
<text x="162.10" y="683.00" font-size="12.5" fill="#131722" font-weight="bold" textLength="26.4" lengthAdjust="spacingAndGlyphs">2022</text>
<text x="281.00" y="683.00" font-size="12.5" fill="#131722" textLength="19.2" lengthAdjust="spacingAndGlyphs">Feb</text>
<text x="390.25" y="683.00" font-size="12.5" fill="#131722" textLength="19.5" lengthAdjust="spacingAndGlyphs">Mar</text>
<text x="517.25" y="683.00" font-size="12.5" fill="#131722" textLength="17.9" lengthAdjust="spacingAndGlyphs">Apr</text>
<text x="630.60" y="683.00" font-size="12.5" fill="#131722" textLength="20.6" lengthAdjust="spacingAndGlyphs">May</text>
<text x="752.50" y="683.00" font-size="12.5" fill="#131722" textLength="18.2" lengthAdjust="spacingAndGlyphs">Jun</text>
<text x="875.10" y="683.00" font-size="12.5" fill="#131722" textLength="14.4" lengthAdjust="spacingAndGlyphs">Jul</text>
<text x="987.55" y="683.00" font-size="12.5" fill="#131722" textLength="19.1" lengthAdjust="spacingAndGlyphs">Aug</text>
<text x="1073.40" y="683.00" font-size="12.5" fill="#131722" textLength="11.2" lengthAdjust="spacingAndGlyphs">22</text>
<text x="10.30" y="21.50" font-size="12.2" fill="#131722" textLength="67" lengthAdjust="spacingAndGlyphs">EURUSD, 1D,</text>
<text x="117.40" y="21.50" font-size="12.2" fill="#131722" textLength="50.5" lengthAdjust="spacingAndGlyphs">O<tspan fill="#26a69a">1.04386</tspan></text>
<text x="175.20" y="21.50" font-size="12.2" fill="#131722" textLength="49.6" lengthAdjust="spacingAndGlyphs">H<tspan fill="#26a69a">1.04687</tspan></text>
<text x="232.80" y="21.50" font-size="12.2" fill="#131722" textLength="48" lengthAdjust="spacingAndGlyphs">L<tspan fill="#26a69a">1.03822</tspan></text>
<text x="288.40" y="21.50" font-size="12.2" fill="#131722" textLength="49" lengthAdjust="spacingAndGlyphs">C<tspan fill="#26a69a">1.04477</tspan></text>
<text x="345.00" y="21.50" font-size="12.2" fill="#26a69a" textLength="96.9" lengthAdjust="spacingAndGlyphs">+0.00091 (+0.09%)</text>
<path d="M2.1,705.3 H10.7 V714.5 H5.8 V708.7 H2.1 Z" fill="#131722"/>
<circle cx="13.2" cy="707.15" r="1.65" fill="#131722"/>
<path d="M16.3,705.3 H21.3 L17.6,714.5 H12.7 Z" fill="#131722"/>
<text x="24.9" y="714.5" font-size="12" fill="#2a2e39" textLength="70.4" lengthAdjust="spacingAndGlyphs">TradingView</text>
</svg>
</body></html>
